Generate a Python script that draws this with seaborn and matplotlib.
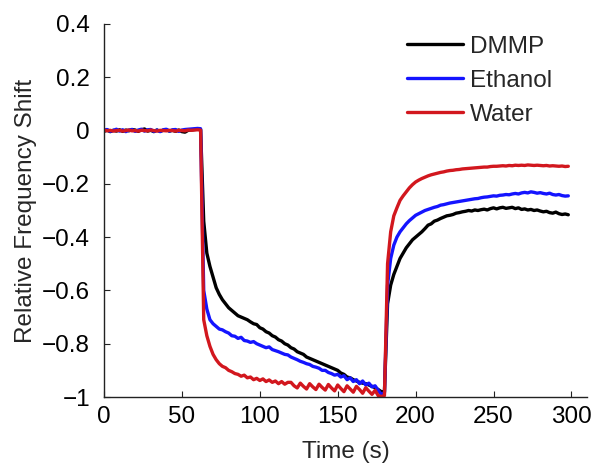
import numpy as np
import pandas as pd
import matplotlib
matplotlib.use("Agg")
import matplotlib.pyplot as plt
import seaborn as sns

# time axis (s), 2 s sampling
time_s = list(range(0, 300, 2))

dmmp = [
    -0.003, 0.002, -0.004, 0.001, -0.002, 0.003, -0.003, 0.002, -0.001, 0.004,
    0.002, -0.003, 0.003, 0.006, -0.002, 0.001, -0.004, 0.002, -0.003, 0.001,
    0.003, -0.002, 0.001, -0.003, 0.002, -0.004, -0.006, 0.001, 0.002, 0.004,
    0.005, 0.004, -0.34, -0.46, -0.51, -0.55, -0.59, -0.615, -0.635, -0.65,
    -0.665, -0.675, -0.685, -0.695, -0.70, -0.705, -0.71, -0.718, -0.725, -0.728,
    -0.74, -0.745, -0.755, -0.76, -0.77, -0.775, -0.785, -0.79, -0.80, -0.805,
    -0.815, -0.82, -0.83, -0.835, -0.84, -0.85, -0.855, -0.86, -0.865, -0.87,
    -0.875, -0.88, -0.885, -0.89, -0.895, -0.90, -0.91, -0.915, -0.925, -0.928,
    -0.935, -0.94, -0.945, -0.948, -0.95, -0.955, -0.96, -0.965, -0.972, -0.98,
    -0.98, -0.65, -0.58, -0.54, -0.51, -0.48, -0.46, -0.44, -0.425, -0.41,
    -0.40, -0.39, -0.38, -0.368, -0.355, -0.35, -0.34, -0.336, -0.33, -0.325,
    -0.32, -0.318, -0.315, -0.31, -0.308, -0.305, -0.303, -0.30, -0.302, -0.298,
    -0.30, -0.297, -0.295, -0.298, -0.293, -0.29, -0.294, -0.29, -0.288, -0.292,
    -0.29, -0.288, -0.293, -0.29, -0.296, -0.294, -0.298, -0.296, -0.30, -0.298,
    -0.302, -0.305, -0.303, -0.308, -0.31, -0.306, -0.312, -0.315, -0.313, -0.316,
]

ethanol = [
    0.002, 0.004, -0.003, 0.001, 0.005, -0.002, 0.003, -0.004, 0.002, 0.004,
    -0.003, 0.002, 0.005, -0.002, 0.003, 0.004, -0.003, 0.002, -0.004, 0.003,
    0.005, -0.002, 0.003, 0.004, -0.003, 0.002, 0.004, 0.005, 0.006, 0.007,
    0.008, 0.007, -0.60, -0.67, -0.71, -0.725, -0.735, -0.745, -0.748, -0.755,
    -0.76, -0.77, -0.772, -0.78, -0.776, -0.788, -0.79, -0.795, -0.792, -0.80,
    -0.805, -0.81, -0.815, -0.812, -0.822, -0.826, -0.83, -0.835, -0.84, -0.842,
    -0.85, -0.855, -0.86, -0.866, -0.87, -0.875, -0.878, -0.885, -0.888, -0.892,
    -0.90, -0.90, -0.908, -0.912, -0.918, -0.915, -0.925, -0.92, -0.935, -0.928,
    -0.942, -0.935, -0.95, -0.94, -0.955, -0.948, -0.962, -0.958, -0.975, -0.99,
    -0.985, -0.58, -0.48, -0.43, -0.40, -0.38, -0.365, -0.35, -0.338, -0.328,
    -0.318, -0.312, -0.306, -0.30, -0.296, -0.292, -0.288, -0.285, -0.28, -0.278,
    -0.275, -0.272, -0.27, -0.268, -0.266, -0.264, -0.262, -0.26, -0.258, -0.256,
    -0.255, -0.252, -0.25, -0.249, -0.247, -0.245, -0.246, -0.243, -0.242, -0.24,
    -0.241, -0.238, -0.236, -0.238, -0.234, -0.232, -0.234, -0.23, -0.232, -0.235,
    -0.233, -0.236, -0.238, -0.235, -0.24, -0.242, -0.24, -0.244, -0.246, -0.245,
]

water = [
    0.002, -0.001, 0.001, -0.002, 0.000, 0.001, -0.002, 0.000, 0.002, -0.001,
    0.000, -0.002, 0.001, 0.000, -0.001, 0.002, 0.000, -0.002, 0.001, 0.000,
    -0.001, 0.001, 0.000, -0.002, 0.001, 0.000, -0.001, 0.002, 0.001, 0.002,
    0.003, 0.002, -0.71, -0.77, -0.81, -0.84, -0.86, -0.875, -0.885, -0.89,
    -0.90, -0.905, -0.912, -0.915, -0.922, -0.918, -0.928, -0.925, -0.935, -0.93,
    -0.938, -0.932, -0.942, -0.936, -0.945, -0.94, -0.95, -0.942, -0.952, -0.945,
    -0.945, -0.958, -0.966, -0.948, -0.96, -0.97, -0.95, -0.962, -0.972, -0.952,
    -0.964, -0.974, -0.953, -0.966, -0.977, -0.955, -0.968, -0.98, -0.958, -0.97,
    -0.982, -0.96, -0.972, -0.986, -0.965, -0.978, -0.99, -0.975, -0.995, -0.998,
    -0.995, -0.50, -0.38, -0.32, -0.29, -0.262, -0.245, -0.23, -0.215, -0.203,
    -0.193, -0.186, -0.18, -0.175, -0.17, -0.166, -0.163, -0.16, -0.157, -0.155,
    -0.152, -0.15, -0.149, -0.147, -0.146, -0.144, -0.143, -0.142, -0.141, -0.14,
    -0.139, -0.138, -0.137, -0.137, -0.135, -0.134, -0.134, -0.133, -0.132, -0.133,
    -0.131, -0.132, -0.13, -0.131, -0.13, -0.131, -0.129, -0.13, -0.131, -0.13,
    -0.131, -0.132, -0.131, -0.133, -0.132, -0.133, -0.134, -0.133, -0.135, -0.134,
]

series_names = ["DMMP", "Ethanol", "Water"]
series_colors = ["#000000", "#1414ff", "#d2171e"]
x_ticks = [0, 50, 100, 150, 200, 250, 300]
y_ticks = [-1, -0.8, -0.6, -0.4, -0.2, 0, 0.2, 0.4]
y_tick_labels = ["\u22121", "\u22120.8", "\u22120.6", "\u22120.4", "\u22120.2", "0", "0.2", "0.4"]

df = pd.concat([
    pd.DataFrame({"Time": time_s, "Shift": vals, "Gas": name})
    for name, vals in zip(series_names, [dmmp, ethanol, water])
], ignore_index=True)

sns.set_style("ticks")
plt.rcParams["font.family"] = ["Liberation Sans", "DejaVu Sans"]

FS = 17.5
fig = plt.figure(figsize=(5.92, 4.63), dpi=100)
ax = fig.add_axes([104 / 592, 1 - 397 / 463, (587 - 104) / 592, (397 - 24) / 463])

sns.lineplot(data=df, x="Time", y="Shift", hue="Gas", hue_order=series_names,
             palette=series_colors, linewidth=2.4, ax=ax, estimator=None)

ax.set_xlim(0, 310)
ax.set_ylim(-1, 0.4)
ax.set_xticks(x_ticks)
ax.set_yticks(y_ticks)
ax.set_yticklabels(y_tick_labels)
ax.tick_params(direction="in", length=4, width=0.8, labelsize=FS, colors="#222222",
               labelcolor="black")
ax.tick_params(axis="y", pad=10)
ax.tick_params(axis="x", pad=6.5)
for s in ["top", "right"]:
    ax.spines[s].set_visible(False)
for s in ["left", "bottom"]:
    ax.spines[s].set_linewidth(1.0)
    ax.spines[s].set_color("#222222")

ax.set_xlabel("Time (s)", fontsize=FS, labelpad=9)
ax.set_ylabel("Relative Frequency Shift", fontsize=FS, labelpad=4)

leg = ax.legend(loc="upper left", frameon=False, fontsize=FS,
                handlelength=2.3, handletextpad=0.3, labelspacing=0.5,
                borderaxespad=0.0, bbox_to_anchor=(0.607, 0.995))
for line in leg.get_lines():
    line.set_linewidth(2.4)

fig.savefig("out.png", dpi=100)
